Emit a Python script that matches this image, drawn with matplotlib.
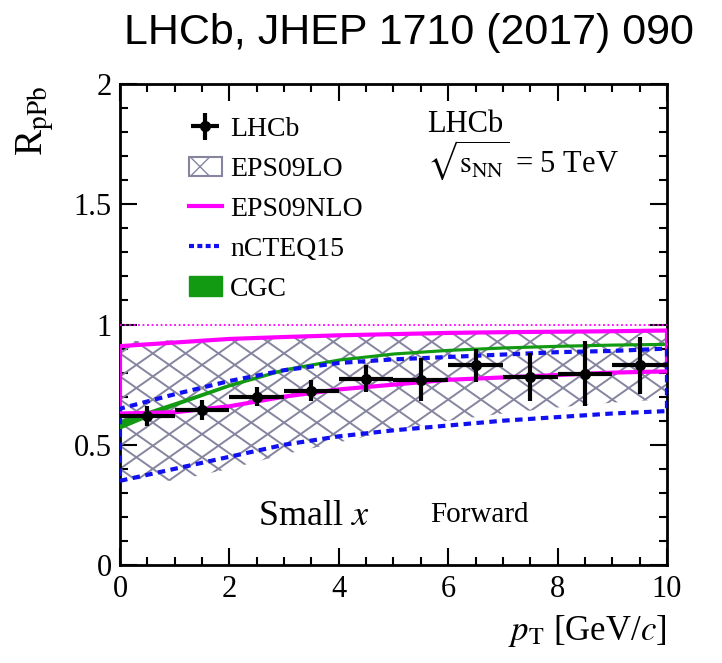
import numpy as np
import matplotlib.pyplot as plt
from matplotlib.patches import Patch
from matplotlib.lines import Line2D

plt.rcParams['font.family'] = ['Liberation Serif', 'DejaVu Serif']
plt.rcParams['mathtext.fontset'] = 'stix'

# LHCb measurement
pt_centers = [0.5, 1.5, 2.5, 3.5, 4.5, 5.5, 6.5, 7.5, 8.5, 9.5]
pt_halfwidth = [0.5] * 10
r_lhcb = [0.62, 0.645, 0.70, 0.725, 0.775, 0.77, 0.83, 0.78, 0.795, 0.83]
r_err = [0.04, 0.04, 0.04, 0.045, 0.055, 0.09, 0.07, 0.10, 0.135, 0.12]

# theory bands on a pT grid
pt_grid = [0, 1, 2, 3, 4, 5, 6, 7, 8, 9, 10]
eps09lo_low = [0.36, 0.35, 0.40, 0.46, 0.51, 0.56, 0.60, 0.63, 0.655, 0.675, 0.69]
eps09lo_up = [0.93, 0.935, 0.945, 0.95, 0.955, 0.96, 0.965, 0.968, 0.97, 0.972, 0.975]
eps09nlo_low = [0.63, 0.635, 0.66, 0.70, 0.73, 0.75, 0.77, 0.78, 0.79, 0.80, 0.805]
eps09nlo_up = [0.91, 0.925, 0.94, 0.948, 0.955, 0.96, 0.965, 0.968, 0.97, 0.972, 0.975]
ncteq_low = [0.35, 0.40, 0.45, 0.50, 0.535, 0.56, 0.58, 0.60, 0.615, 0.63, 0.64]
ncteq_up = [0.65, 0.71, 0.765, 0.81, 0.84, 0.855, 0.865, 0.875, 0.885, 0.89, 0.90]
cgc_low = [0.57, 0.665, 0.745, 0.81, 0.852, 0.877, 0.892, 0.902, 0.909, 0.914, 0.917]
cgc_up = [0.60, 0.675, 0.752, 0.816, 0.857, 0.882, 0.897, 0.907, 0.914, 0.919, 0.922]

hatch_col = '#8585a0'
magenta = '#ff00ff'
blue = '#1010f0'
green = '#129a12'

fig = plt.figure(figsize=(7.22, 6.63), dpi=100)
ax = fig.add_axes([0.1662, 0.1478, 0.7576, 0.7255])

# EPS09LO hatched band (hand-drawn cross hatch clipped to band)
band = ax.fill_between(pt_grid, eps09lo_low, eps09lo_up, facecolor='none', edgecolor='none')
clip = band.get_paths()[0]
slope, step = 0.16, 0.096
xs = np.array([0, 10])
for c in np.arange(-2.0, 3.0, step):
    for s in (slope, -slope):
        ln, = ax.plot(xs, s * xs + c, color=hatch_col, lw=1.4, zorder=2)
        ln.set_clip_path(clip, ax.transData)

def outline(x, lo, up):
    xx = list(x) + list(x[::-1]) + [x[0]]
    yy = list(lo) + list(up[::-1]) + [lo[0]]
    return xx, yy

ax.axhline(1.0, color=magenta, lw=1.3, ls=(0, (1, 1.5)), zorder=3)

# CGC
ax.fill_between(pt_grid, cgc_low, cgc_up, color=green, lw=1.4, zorder=4)

# EPS09NLO
xx, yy = outline(pt_grid, eps09nlo_low, eps09nlo_up)
ax.plot(xx, yy, color=magenta, lw=3, zorder=5, solid_joinstyle='miter')

# nCTEQ15
xx, yy = outline(pt_grid, ncteq_low, ncteq_up)
ax.plot(xx, yy, color=blue, lw=3, ls=(0, (1.8, 1.3)), zorder=6)

# data
eb = ax.errorbar(pt_centers, r_lhcb, xerr=pt_halfwidth, yerr=r_err, fmt='o',
                 color='black', ms=7, elinewidth=3, capsize=0, zorder=8)

ax.set_xlim(0, 10)
ax.set_ylim(0, 2)
ax.set_xticks([0, 2, 4, 6, 8, 10])
ax.set_xticks(np.arange(0, 10.01, 0.5), minor=True)
ax.set_yticks([0, 0.5, 1, 1.5, 2])
ax.set_yticklabels(['0', '0.5', '1', '1.5', '2'])
ax.set_yticks(np.arange(0, 2.01, 0.1), minor=True)
ax.tick_params(which='both', direction='in', top=True, right=True, width=1.5, labelsize=22)
ax.tick_params(which='major', length=12)
ax.tick_params(which='minor', length=6)
ax.tick_params(axis='x', pad=7)
ax.tick_params(axis='y', pad=6)
for sp in ax.spines.values():
    sp.set_linewidth(2)

handles = [eb,
           Patch(facecolor='white', edgecolor=hatch_col, hatch='x', lw=1.5),
           Line2D([], [], color=magenta, lw=3),
           Line2D([], [], color=blue, lw=3, ls=(0, (1.2, 0.8))),
           Patch(facecolor=green, edgecolor=green)]
labels = ['LHCb', 'EPS09LO', 'EPS09NLO', 'nCTEQ15', 'CGC']
ax.legend(handles, labels, loc='upper left', bbox_to_anchor=(0.105, 0.955), frameon=False,
          fontsize=20, handlelength=1.2, handletextpad=0.3, labelspacing=0.52,
          borderaxespad=0)

ax.text(5.61, 1.80, 'LHCb', fontsize=22)
ax.text(5.61, 1.635, r'$\sqrt{\mathrm{s}_{\rm NN}}$ = 5 TeV', fontsize=22)
ax.text(2.52, 0.166, r'Small $x$', fontsize=26)
ax.text(5.67, 0.18, 'Forward', fontsize=21)

fig.text(35 / 722, 1 - 86 / 663, r'R$_{\rm pPb}$', rotation=90, ha='center', va='top', fontsize=28)
fig.text(667 / 722, 1 - 640 / 663, r'$p_{\rm T}$ [GeV/$c$]', ha='right', va='baseline', fontsize=25)

fig.text(409 / 722, 1 - 33 / 663, 'LHCb, JHEP 1710 (2017) 090', ha='center', va='center',
         fontsize=31, family='Liberation Sans')

fig.savefig('out.png', dpi=100)
